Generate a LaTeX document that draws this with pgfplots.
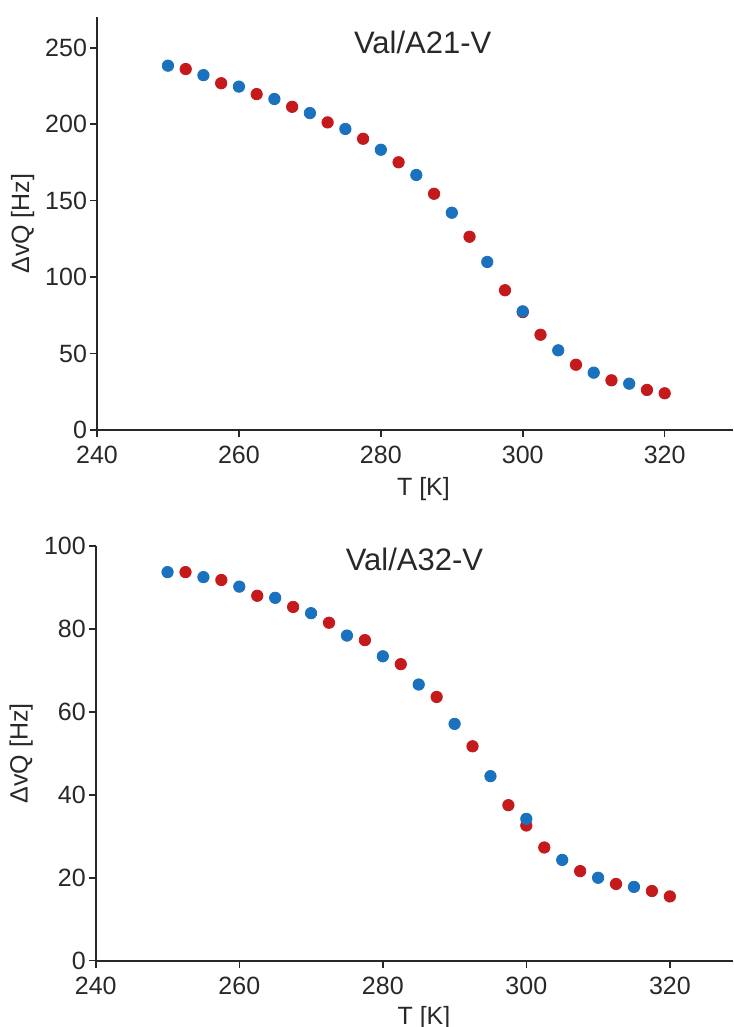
\documentclass[border=0pt]{standalone}
\usepackage{fontspec}
\setmainfont{Liberation Sans}
\usepackage{pgfplots}
\pgfplotsset{compat=1.18}
\definecolor{cblue}{RGB}{26,113,190}
\definecolor{cred}{RGB}{196,26,28}
\definecolor{axc}{RGB}{40,40,40}
\pgfplotsset{mystyle/.style={
  scale only axis,
  axis lines=left,
  axis line style={-, line width=0.85pt, axc},
  tick align=outside,
  major tick length=3.5pt,
  tick style={line width=0.8pt, axc},
  xmin=240, xtick={240,260,...,320},
  every tick label/.append style={font=\fontsize{12.5}{14}\selectfont, text=axc},
  yticklabel style={xshift=2pt},
  xticklabel style={yshift=-1pt},
  /pgf/number format/assume math mode=true,
  label style={font=\fontsize{12.5}{14}\selectfont, text=axc},
  ylabel style={at={(axis description cs:-0.117,0.5)}, anchor=center},
  clip=false,
}}
\begin{document}
\begin{tikzpicture}
\begin{axis}[mystyle,
  at={(48.5pt,298.5pt)}, anchor=south west,
  width=317.9pt, height=206.4pt,
  xmax=329.6, ymin=0, ymax=270,
  ytick={0,50,...,250},
  xlabel={T [K]}, ylabel={ΔvQ [Hz]},
  xlabel style={at={(axis description cs:0.5135,-0.1587)}, anchor=base},
]
\addplot[only marks, mark=*, mark size=2.85pt, color=cred] coordinates {
(252.5,236.1) (257.5,226.8) (262.5,219.7) (267.5,211.4) (272.5,201.2) (277.5,190.5) (282.5,175.1) (287.5,154.5) (292.5,126.4) (297.5,91.4) (300,77.1) (302.5,62.3) (307.5,42.7) (312.5,32.5) (317.5,26.2) (320,24.0)
};
\addplot[only marks, mark=*, mark size=2.85pt, color=cblue] coordinates {
(250,238.3) (255,232.1) (260,224.6) (265,216.5) (270,207.3) (275,196.9) (280,183.3) (285,166.8) (290,142.1) (295,109.9) (300,77.6) (305,52.1) (310,37.5) (315,30.3)
};
\node[anchor=base, font=\fontsize{15.5}{18}\selectfont, text=axc] at (axis cs:285.9,246.4) {Val/A21-V};
\end{axis}
\begin{axis}[mystyle,
  at={(47.9pt,33.15pt)}, anchor=south west,
  width=318.6pt, height=207.35pt,
  xmax=328.8, ymin=0, ymax=100,
  ytick={0,20,...,100},
  xlabel={T [K]}, ylabel={ΔvQ [Hz]},
  xlabel style={at={(axis description cs:0.515,-0.153)}, anchor=base},
]
\addplot[only marks, mark=*, mark size=2.85pt, color=cred] coordinates {
(252.5,93.7) (257.5,91.8) (262.5,88.0) (267.5,85.3) (272.5,81.5) (277.5,77.3) (282.5,71.5) (287.5,63.6) (292.5,51.7) (297.5,37.5) (300,32.6) (302.5,27.3) (307.5,21.6) (312.5,18.5) (317.5,16.8) (320,15.5)
};
\addplot[only marks, mark=*, mark size=2.85pt, color=cblue] coordinates {
(250,93.7) (255,92.5) (260,90.2) (265,87.5) (270,83.8) (275,78.4) (280,73.4) (285,66.6) (290,57.1) (295,44.5) (300,34.2) (305,24.3) (310,20.0) (315,17.8)
};
\node[anchor=base, font=\fontsize{15.5}{18}\selectfont, text=axc] at (axis cs:284.4,94.2) {Val/A32-V};
\end{axis}
\pgfresetboundingbox
\path[use as bounding box] (0,0) rectangle (366.5pt,513.5pt);
\end{tikzpicture}
\end{document}
